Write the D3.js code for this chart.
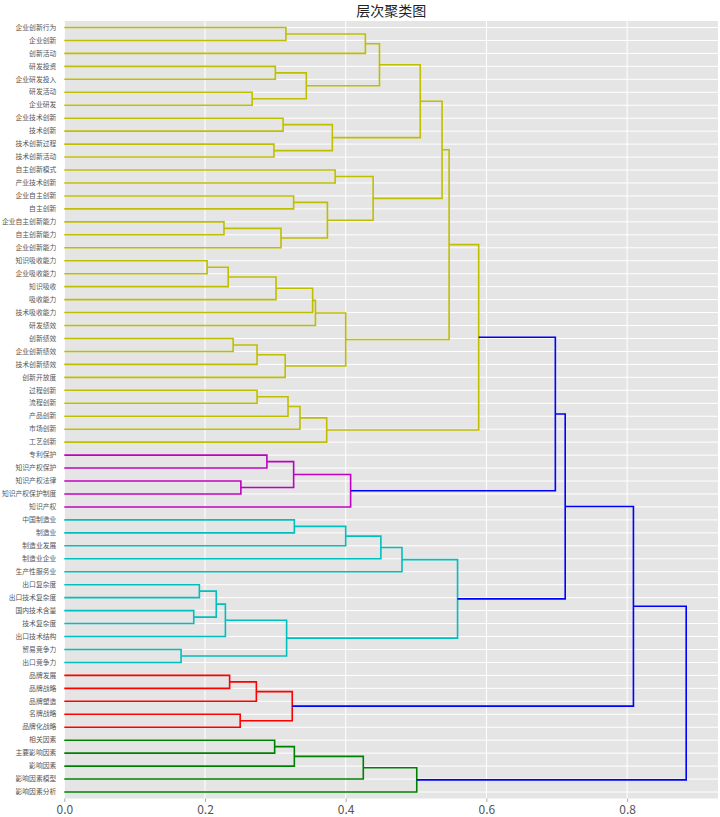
<!DOCTYPE html>
<html>
<head>
<meta charset="utf-8">
<script src="https://cdn.jsdelivr.net/npm/d3@7"></script>
<style>
  html, body { margin: 0; padding: 0; background: #ffffff; }
  svg { display: block; }
</style>
</head>
<body>
<svg id="chart" width="720" height="817"></svg>
<script>
// ---- data ----
const title = "层次聚类图";
const labels = [
  "企业创新行为","企业创新","创新活动","研发投资","企业研发投入","研发活动","企业研发",
  "企业技术创新","技术创新","技术创新过程","技术创新活动","自主创新模式","产业技术创新",
  "企业自主创新","自主创新","企业自主创新能力","自主创新能力","企业创新能力",
  "知识吸收能力","企业吸收能力","知识吸收","吸收能力","技术吸收能力","研发绩效",
  "创新绩效","企业创新绩效","技术创新绩效","创新开放度","过程创新","流程创新",
  "产品创新","市场创新","工艺创新",
  "专利保护","知识产权保护","知识产权法律","知识产权保护制度","知识产权",
  "中国制造业","制造业","制造业发展","制造业企业","生产性服务业","出口复杂度",
  "出口技术复杂度","国内技术含量","技术复杂度","出口技术结构","贸易竞争力","出口竞争力",
  "品牌发展","品牌战略","品牌塑造","名牌战略","品牌化战略",
  "相关因素","主要影响因素","影响因素","影响因素模型","影响因素分析"
];
// linkage: [childA, childB, height]; leaves are 0..59, merge i gets id 60+i
const merges = [
  [0,1,0.315],[60,2,0.428],[3,4,0.300],[5,6,0.267],[62,63,0.344],[61,64,0.448],
  [7,8,0.311],[9,10,0.298],[66,67,0.381],[65,68,0.506],[11,12,0.385],[13,14,0.326],
  [15,16,0.227],[72,17,0.308],[71,73,0.374],[70,74,0.439],[69,75,0.537],
  [18,19,0.203],[77,20,0.233],[78,21,0.301],[79,22,0.353],[80,23,0.357],
  [24,25,0.240],[82,26,0.274],[83,27,0.314],[81,84,0.400],[76,85,0.547],
  [28,29,0.274],[87,30,0.318],[88,31,0.335],[89,32,0.373],[86,90,0.589],
  [33,34,0.288],[35,36,0.251],[92,93,0.326],[94,37,0.407],
  [38,39,0.327],[96,40,0.400],[97,41,0.450],[98,42,0.480],[43,44,0.192],
  [45,46,0.184],[100,101,0.216],[102,47,0.229],[48,49,0.166],[103,104,0.316],[99,105,0.559],
  [50,51,0.235],[107,52,0.273],[53,54,0.250],[108,109,0.324],
  [55,56,0.299],[111,57,0.327],[112,58,0.425],[113,59,0.501],
  [91,95,0.698],[115,106,0.712],[116,110,0.809],[117,114,0.884]
];
const clusterSizes = [33, 5, 12, 5, 5];
const clusterColors = ["#bfbf00", "#bf00bf", "#00bfbf", "#ff0000", "#008000"];
const aboveColor = "#0000ff";
const xTicks = [0.0, 0.2, 0.4, 0.6, 0.8];

// ---- layout ----
const W = 720, H = 817;
const plot = { left: 64.3, right: 718, top: 21, bottom: 798.5 };
const svg = d3.select("#chart");

const x = d3.scaleLinear()
  .domain([0, (plot.right - plot.left) / 703.5])
  .range([plot.left, plot.right]);
const y = d3.scaleBand()
  .domain(d3.range(labels.length))
  .range([plot.top, plot.bottom]);
const yc = i => y(i) + y.bandwidth() / 2;

// background
svg.append("rect")
  .attr("x", plot.left).attr("y", plot.top)
  .attr("width", plot.right - plot.left).attr("height", plot.bottom - plot.top)
  .attr("fill", "#e5e5e5");

// grid
const grid = svg.append("g");
grid.selectAll("line.h").data(d3.range(labels.length)).join("line")
  .attr("x1", plot.left).attr("x2", plot.right)
  .attr("y1", d => yc(d)).attr("y2", d => yc(d))
  .attr("stroke", "#ffffff").attr("stroke-width", 1);
grid.selectAll("line.v").data(xTicks).join("line")
  .attr("x1", d => x(d)).attr("x2", d => x(d))
  .attr("y1", plot.top).attr("y2", plot.bottom)
  .attr("stroke", "#ffffff").attr("stroke-width", 1);

// cluster of each leaf
const leafCluster = [];
clusterSizes.forEach((n, c) => { for (let k = 0; k < n; k++) leafCluster.push(c); });

// node info
const nodeY = labels.map((_, i) => yc(i));
const nodeH = labels.map(() => 0);
const nodeC = leafCluster.slice();
merges.forEach(([a, b, h]) => {
  nodeY.push((nodeY[a] + nodeY[b]) / 2);
  nodeH.push(h);
  nodeC.push(nodeC[a] === nodeC[b] ? nodeC[a] : -1);
});

// links
const links = svg.append("g").attr("fill", "none").attr("stroke-width", 1.6)
  .attr("stroke-linejoin", "miter");
merges.forEach(([a, b, h], i) => {
  const id = labels.length + i;
  const col = nodeC[id] >= 0 ? clusterColors[nodeC[id]] : aboveColor;
  const path = d3.path();
  path.moveTo(x(nodeH[a]), nodeY[a]);
  path.lineTo(x(h), nodeY[a]);
  path.lineTo(x(h), nodeY[b]);
  path.lineTo(x(nodeH[b]), nodeY[b]);
  links.append("path").attr("d", path.toString()).attr("stroke", col);
});

// x axis
const xAxis = d3.axisBottom(x).tickValues(xTicks).tickFormat(d3.format(".1f"))
  .tickSizeInner(3.5).tickSizeOuter(0).tickPadding(3);
const gx = svg.append("g").attr("transform", `translate(0,${plot.bottom})`).call(xAxis);
gx.select(".domain").remove();
gx.selectAll(".tick line").attr("stroke", "#aaaaaa");
gx.selectAll(".tick text").attr("fill", "#555555")
  .style("font-family", "'Noto Sans CJK SC', 'DejaVu Sans', sans-serif")
  .style("font-size", "12px");

// y axis labels
const yAxis = d3.axisLeft(y).tickFormat(i => labels[i]).tickSize(0).tickPadding(8);
const gy = svg.append("g").attr("transform", `translate(${plot.left},0)`).call(yAxis);
gy.select(".domain").remove();
gy.selectAll(".tick text").attr("fill", "#555555")
  .style("font-family", "'Noto Sans CJK SC', sans-serif")
  .style("font-size", "6.8px");

// title
svg.append("text")
  .attr("x", (plot.left + plot.right) / 2).attr("y", 16)
  .attr("text-anchor", "middle")
  .style("font-family", "'Noto Sans CJK SC', sans-serif")
  .style("font-size", "14px")
  .attr("fill", "#222222")
  .text(title);
</script>
</body>
</html>
